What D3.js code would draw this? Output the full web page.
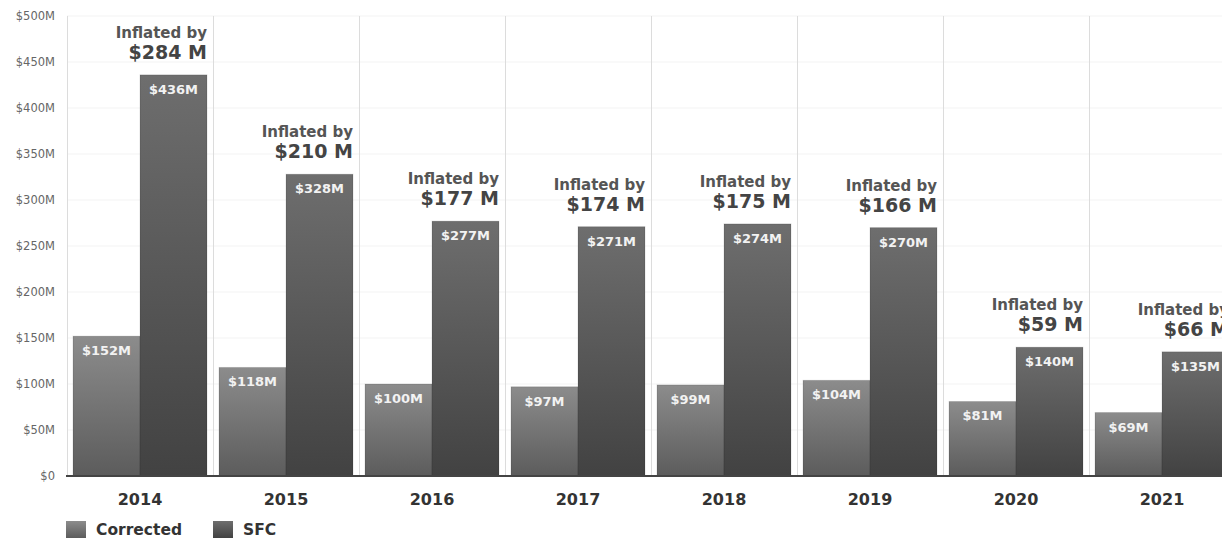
<!DOCTYPE html>
<html>
<head>
<meta charset="utf-8">
<script src="https://cdn.jsdelivr.net/npm/d3@7"></script>
<style>
  html, body { margin: 0; padding: 0; background: #fff; overflow: hidden; }
  svg { display: block; font-family: "DejaVu Sans", Verdana, sans-serif; }
</style>
</head>
<body>
<svg id="chart" width="1222" height="538"></svg>
<script>
// Annual values in $M
const years = ["2014", "2015", "2016", "2017", "2018", "2019", "2020", "2021"];
const corrected = [152, 118, 100, 97, 99, 104, 81, 69];
const sfc = [436, 328, 277, 271, 274, 270, 140, 135];
const inflated = [284, 210, 177, 174, 175, 166, 59, 66];
const seriesNames = ["Corrected", "SFC"];
const yTicks = [0, 50, 100, 150, 200, 250, 300, 350, 400, 450, 500];

const svg = d3.select("#chart");
const margin = { left: 67, top: 16, bottom: 476 };
const plotRight = 1235;

const x = d3.scaleBand().domain(years).range([margin.left, plotRight]);
const xSub = d3.scaleBand().domain(seriesNames).range([6, x.bandwidth() - 6]);
const y = d3.scaleLinear().domain([0, 500]).range([margin.bottom, margin.top]);

// Gradients for bars
const defs = svg.append("defs");
function grad(id, top, bottom) {
  const g = defs.append("linearGradient").attr("id", id)
    .attr("x1", 0).attr("y1", 0).attr("x2", 0).attr("y2", 1);
  g.append("stop").attr("offset", "0%").attr("stop-color", top);
  g.append("stop").attr("offset", "100%").attr("stop-color", bottom);
}
grad("gCorrected", "#8c8c8c", "#5c5c5c");
grad("gSFC", "#6e6e6e", "#424242");
const fills = { Corrected: "url(#gCorrected)", SFC: "url(#gSFC)" };

// Horizontal grid lines
svg.append("g").selectAll("line").data(yTicks).join("line")
  .attr("x1", margin.left).attr("x2", plotRight)
  .attr("y1", d => y(d)).attr("y2", d => y(d))
  .attr("stroke", "#f3f3f3").attr("stroke-width", 1);

// Vertical category separators
svg.append("g").selectAll("line").data(years).join("line")
  .attr("x1", d => x(d) + 0.5).attr("x2", d => x(d) + 0.5)
  .attr("y1", margin.top).attr("y2", margin.bottom)
  .attr("stroke", "#dcdcdc").attr("stroke-width", 1);

// Y axis labels
const yAxis = d3.axisLeft(y).tickValues(yTicks)
  .tickFormat(d => d === 0 ? "$0" : "$" + d + "M").tickSize(0).tickPadding(12);
const yG = svg.append("g").attr("transform", `translate(${margin.left},0)`).call(yAxis);
yG.select(".domain").remove();
yG.selectAll("text").attr("fill", "#666").style("font-size", "11.5px")
  .style("font-family", "'DejaVu Sans', Verdana, sans-serif");

// Bars
const rows = years.map((yr, i) => ({ year: yr, Corrected: corrected[i], SFC: sfc[i], inflated: inflated[i] }));
const groups = svg.append("g").selectAll("g").data(rows).join("g")
  .attr("transform", d => `translate(${x(d.year)},0)`);

groups.selectAll("rect").data(d => seriesNames.map(k => ({ key: k, value: d[k] }))).join("rect")
  .attr("x", d => xSub(d.key))
  .attr("width", xSub.bandwidth())
  .attr("y", d => y(d.value))
  .attr("height", d => y(0) - y(d.value))
  .attr("fill", d => fills[d.key])
  .attr("stroke", "rgba(0,0,0,0.12)").attr("stroke-width", 1);

// Value labels inside bars
groups.selectAll("text.val").data(d => seriesNames.map(k => ({ key: k, value: d[k] }))).join("text")
  .attr("class", "val")
  .attr("x", d => xSub(d.key) + xSub.bandwidth() / 2)
  .attr("y", d => y(d.value) + 19)
  .attr("text-anchor", "middle")
  .attr("fill", "#f2f2f2")
  .style("font-size", "13px").style("font-weight", "bold")
  .text(d => "$" + d.value + "M");

// "Inflated by" annotations above SFC bars
const annRight = xSub("SFC") + xSub.bandwidth();
groups.append("text")
  .attr("x", annRight).attr("y", d => y(d.SFC) - 37)
  .attr("text-anchor", "end").attr("fill", "#555")
  .style("font-size", "15px").style("font-weight", "bold")
  .text("Inflated by");
groups.append("text")
  .attr("x", annRight).attr("y", d => y(d.SFC) - 16)
  .attr("text-anchor", "end").attr("fill", "#444")
  .style("font-size", "19px").style("font-weight", "bold")
  .text(d => "$" + d.inflated + " M");

// Baseline
svg.append("line")
  .attr("x1", margin.left - 1).attr("x2", plotRight)
  .attr("y1", y(0)).attr("y2", y(0))
  .attr("stroke", "#444").attr("stroke-width", 2);

// Year labels
const xAxis = d3.axisBottom(x).tickSize(0).tickPadding(18);
const xG = svg.append("g").attr("transform", `translate(0,${y(0)})`).call(xAxis);
xG.select(".domain").remove();
xG.selectAll("text").attr("fill", "#333").style("font-size", "16px").style("font-weight", "bold")
  .style("font-family", "'DejaVu Sans', Verdana, sans-serif");

// Legend
const legendX = [66, 213];
const legend = svg.append("g").selectAll("g").data(seriesNames).join("g")
  .attr("transform", (d, i) => `translate(${legendX[i]},521)`);
legend.append("rect").attr("width", 20).attr("height", 17).attr("fill", d => fills[d]);
legend.append("text").attr("x", 30).attr("y", 14)
  .attr("fill", "#333").style("font-size", "15.5px").style("font-weight", "bold")
  .text(d => d);
</script>
</body>
</html>
